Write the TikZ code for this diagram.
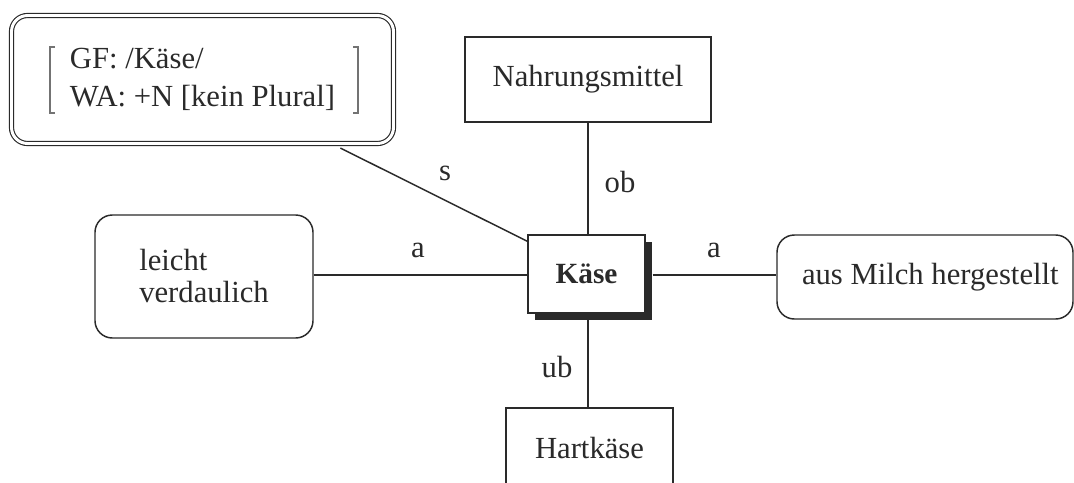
\documentclass[tikz,border=0pt]{standalone}
\usepackage{fontspec}
\setmainfont{Liberation Serif}
\usetikzlibrary{shadows,calc}
\definecolor{ink}{HTML}{2A2A2A}
\begin{document}
\begin{tikzpicture}[x=0.75pt,y=-0.75pt,
  every node/.style={font=\fontsize{23}{24}\selectfont, text=ink},
  box/.style={draw=ink, line width=1.1pt, fill=white, inner sep=0pt},
  roundbox/.style={box, rounded corners=13pt},
  conn/.style={draw=ink, line width=1.1pt},
  lbl/.style={inner sep=0pt}]
\useasboundingbox[fill=white] (0,0) rectangle (1074,482);

\node[box, minimum width=184.5pt, minimum height=63.75pt] (nahr) at (588,79.5) {Nahrungsmittel};
\node[box, minimum width=125.25pt, minimum height=60pt] (hart) at (589.5,448) {Hartkäse};
\node[roundbox, minimum width=163.5pt, minimum height=92.25pt, align=left] (leicht) at (204,276.5) {leicht\\verdaulich};
\node[roundbox, minimum width=222pt, minimum height=63pt] (milch) at (925,277) {\hspace{8pt}aus Milch hergestellt};
\node[draw=ink, line width=0.85pt, double=white, double distance=2.2pt, rounded corners=12pt,
      minimum width=286.5pt, minimum height=96pt, align=left, inner sep=0pt] (lex) at (202.5,79.5) {GF: /Käse/\\[4pt]WA: +N [kein Plural]};
\node[box, minimum width=87.75pt, minimum height=58.5pt, font=\fontsize{22}{23}\selectfont\bfseries,
      drop shadow={shadow xshift=5.2pt, shadow yshift=-5.2pt, fill=ink, opacity=1}] (kaese) at (586.5,274) {Käse};

% brackets in the lexical entry
\draw[black!55, line width=1pt] (55,47) -- (50,47) -- (50,113) -- (55,113);
\draw[black!55, line width=1pt] (353,47) -- (358,47) -- (358,113) -- (353,113);

\coordinate (sstart) at ($(lex.south west)!0.86!(lex.south east)+(0,4)$);
\coordinate (send) at ($(kaese.north west)+(0,7)$);
\coordinate (vx) at (588,275);
\draw[conn] (sstart) -- (send);
\draw[conn] (nahr.south -| vx) -- (kaese.north -| vx);
\draw[conn] (kaese.south -| vx) -- (hart.north -| vx);
\draw[conn] (leicht.east |- vx) -- (kaese.west |- vx);
\draw[conn] ($(kaese.east |- vx)+(7,0)$) -- (milch.west |- vx);

\node[lbl] (ls) at (445,173) {s};
\node[lbl] (lob) at (620,182) {ob};
\node[lbl] (la1) at (418,250) {a};
\node[lbl] (la2) at (714,250) {a};
\node[lbl] (lub) at (557,367) {ub};
\end{tikzpicture}
\end{document}
